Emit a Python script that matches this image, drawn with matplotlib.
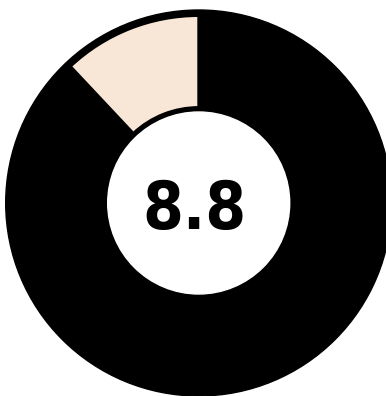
import matplotlib.pyplot as plt

# score donut
score = 8.8
max_score = 10
values = [score, max_score - score]
colors = ["black", "#f8e7d6"]

fig = plt.figure(figsize=(3.86, 3.96), dpi=100)
# square axes, 1 data unit = 193 px, centred on the donut
ax = fig.add_axes([5.7 / 386, 0 / 396, 386 / 386, 386 / 396])

# black disc behind the ring
ax.add_patch(plt.Circle((0, 0), 1.0, color="black", clip_on=False, zorder=0))

wedges, _ = ax.pie(values, colors=colors, startangle=90, counterclock=False,
                   radius=0.971, wedgeprops=dict(width=0.476, edgecolor="black", linewidth=2))
for w in wedges:
    w.set_clip_on(False)

# white hole
ax.add_patch(plt.Circle((0, 0), 0.4715, color="white", zorder=3))

ax.text(-0.022, -0.135, f"{score}", ha="center", va="baseline", fontsize=47,
        fontweight="bold", color="black", family="DejaVu Sans", fontstretch="condensed",
        zorder=4)
ax.set_xlim(-1, 1)
ax.set_ylim(-1, 1)
ax.set_aspect("equal")
ax.axis("off")

fig.savefig("out.png", dpi=100)
